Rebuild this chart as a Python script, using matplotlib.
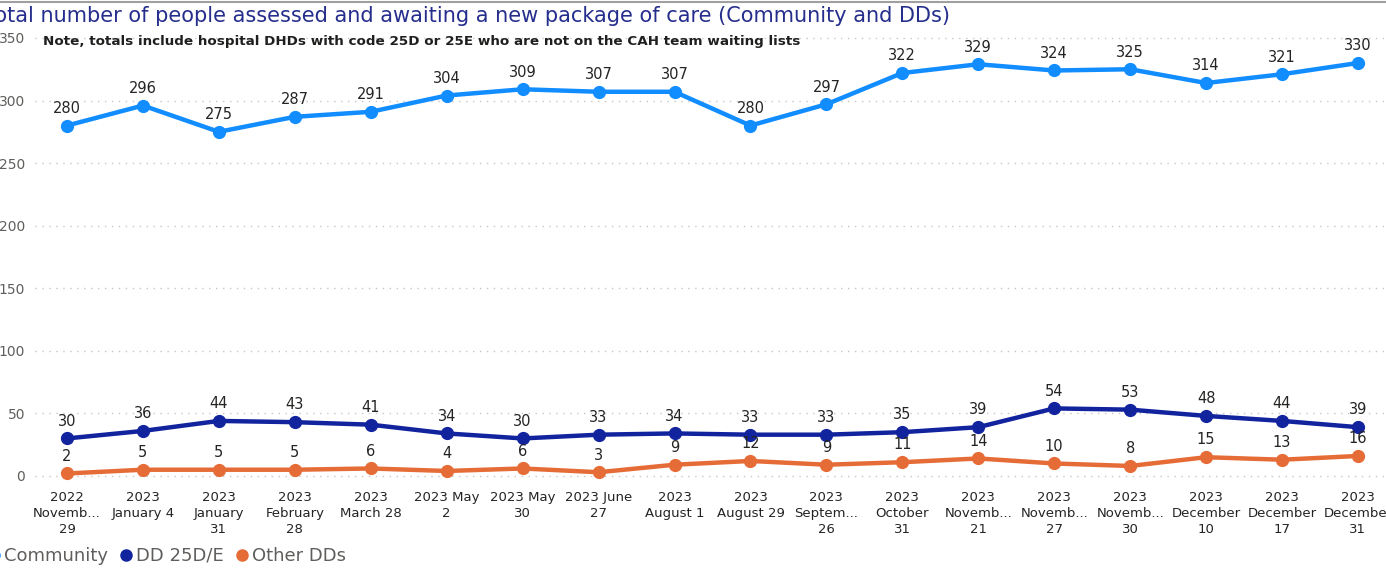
import matplotlib.pyplot as plt
from matplotlib.lines import Line2D

# -------------------------
# DATA
# -------------------------
DATE_LABELS = [
    "2022\nNovemb...\n29", "2023\nJanuary 4", "2023\nJanuary\n31",
    "2023\nFebruary\n28", "2023\nMarch 28", "2023 May\n2", "2023 May\n30",
    "2023 June\n27", "2023\nAugust 1", "2023\nAugust 29", "2023\nSeptem...\n26",
    "2023\nOctober\n31", "2023\nNovemb...\n21", "2023\nNovemb...\n27",
    "2023\nNovemb...\n30", "2023\nDecember\n10", "2023\nDecember\n17",
    "2023\nDecember\n31",
]
COMMUNITY = [280, 296, 275, 287, 291, 304, 309, 307, 307, 280, 297, 322, 329,
             324, 325, 314, 321, 330]
DD_25DE = [30, 36, 44, 43, 41, 34, 30, 33, 34, 33, 33, 35, 39, 54, 53, 48, 44, 39]
OTHER_DDS = [2, 5, 5, 5, 6, 4, 6, 3, 9, 12, 9, 11, 14, 10, 8, 15, 13, 16]
SERIES_NAMES = ["Community", "DD 25D/E", "Other DDs"]
Y_TICKS = [0, 50, 100, 150, 200, 250, 300, 350]

COLORS = ["#118DFF", "#12239E", "#E66C37"]
TEXT_DARK = "#252423"
TEXT_GREY = "#605E5C"

W, H = 1386, 569
fig = plt.figure(figsize=(W / 100, H / 100), dpi=100)

# axes placed in pixel terms
left_px, right_px = 35, 1386
top_px, bottom_px = 31.7, 488.5
ax = fig.add_axes([left_px / W, 1 - bottom_px / H,
                   (right_px - left_px) / W, (bottom_px - top_px) / H])

x = list(range(len(DATE_LABELS)))
for vals, col in zip([COMMUNITY, DD_25DE, OTHER_DDS], COLORS):
    ax.plot(x, vals, color=col, lw=3.2, marker="o", ms=8.5,
            solid_capstyle="round", clip_on=False, zorder=3)
    for xi, v in zip(x, vals):
        ax.annotate(str(v), (xi, v), xytext=(0, 7), textcoords="offset points",
                    ha="center", va="bottom", fontsize=10.5, color=TEXT_DARK)

ax.set_xlim(-0.421, 17.369)
ax.set_ylim(-10, 355)
ax.set_yticks(Y_TICKS)
ax.set_xticks(x)
ax.set_xticklabels(DATE_LABELS, fontsize=9.5, color=TEXT_DARK, linespacing=1.3)
ax.tick_params(axis="both", length=0)
ax.tick_params(axis="x", pad=1.5)
ax.tick_params(axis="y", labelsize=10, labelcolor=TEXT_GREY, pad=7)

ax.grid(axis="y", color="#C8C6C4", ls=(0, (1, 4)), lw=1)
for s in ax.spines.values():
    s.set_visible(False)

fig.text(-0.011, 1 - 22 / H, "Total number of people assessed and awaiting a new "
         "package of care (Community and DDs)", fontsize=15, color="#252E8C",
         va="baseline", ha="left")
fig.text(43 / W, 1 - 41 / H, "Note, totals include hospital DHDs with code 25D or "
         "25E who are not on the CAH team waiting lists", fontsize=9.7,
         fontweight="bold", color="#201F1E", va="center", ha="left")

handles = [Line2D([], [], ls="none", marker="o", ms=8, color=c) for c in COLORS]
fig.legend(handles, SERIES_NAMES, loc="center left",
           bbox_to_anchor=(-22 / W, 1 - 556 / H), ncol=3, frameon=False,
           fontsize=13, labelcolor=TEXT_GREY, handletextpad=0.05,
           columnspacing=0.5, handlelength=1.0, borderaxespad=0)

fig.add_artist(Line2D([0, 1], [1 - 2 / H, 1 - 2 / H], color="#A0A0A0", lw=1.5))

fig.savefig("out.png", dpi=100)
